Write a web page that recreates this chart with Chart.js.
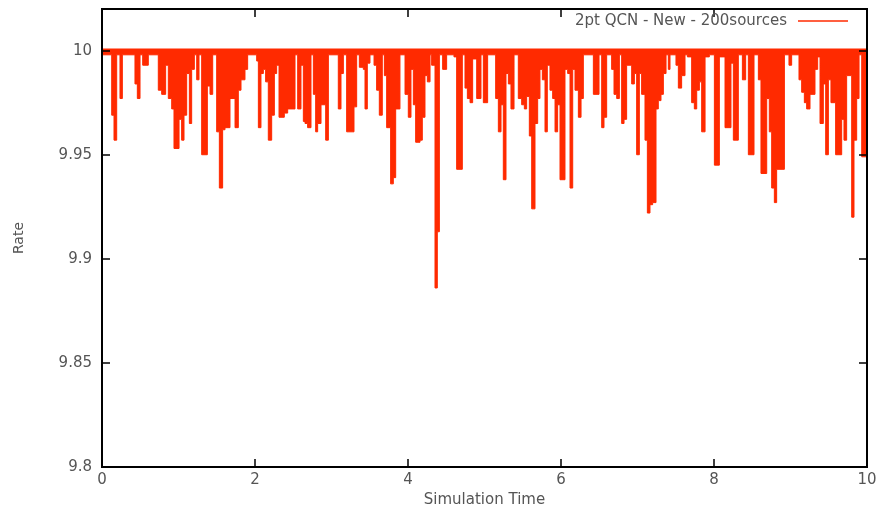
<!DOCTYPE html>
<html>
<head>
<meta charset="utf-8">
<script src="https://cdn.jsdelivr.net/npm/chart.js@4/dist/chart.umd.min.js"></script>
<style>
    html, body { margin: 0; padding: 0; background: #fff; }
    #wrap { width: 880px; height: 511px; }
</style>
</head>
<body>
<div id="wrap"><canvas id="rateChart" width="880" height="511"></canvas></div>
<script>
// ===== DATA =====
const seriesLabel = '2pt QCN - New - 200sources';

// start of each step and the lowest rate reached during it
const simTime = [
    0.000, 0.127, 0.157, 0.192, 0.235, 0.266, 0.431, 0.462, 0.497, 0.532,
    0.605, 0.736, 0.780, 0.832, 0.867, 0.911, 0.941, 1.007, 1.041, 1.072,
    1.107, 1.142, 1.172, 1.207, 1.238, 1.268, 1.303, 1.377, 1.412, 1.447,
    1.499, 1.534, 1.577, 1.608, 1.673, 1.739, 1.782, 1.817, 1.869, 1.904,
    2.022, 2.044, 2.078, 2.109, 2.139, 2.174, 2.218, 2.253, 2.283, 2.314,
    2.383, 2.427, 2.523, 2.558, 2.601, 2.632, 2.654, 2.688, 2.732, 2.763,
    2.793, 2.819, 2.863, 2.924, 2.959, 3.089, 3.124, 3.155, 3.198, 3.294,
    3.329, 3.364, 3.416, 3.438, 3.468, 3.503, 3.556, 3.590, 3.625, 3.664,
    3.691, 3.721, 3.773, 3.808, 3.839, 3.895, 3.961, 4.004, 4.039, 4.070,
    4.100, 4.157, 4.187, 4.222, 4.253, 4.288, 4.309, 4.353, 4.383, 4.410,
    4.453, 4.505, 4.601, 4.636, 4.710, 4.745, 4.776, 4.811, 4.845, 4.876,
    4.898, 4.954, 4.985, 5.041, 5.146, 5.181, 5.216, 5.246, 5.281, 5.312,
    5.346, 5.386, 5.442, 5.486, 5.521, 5.551, 5.586, 5.617, 5.660, 5.695,
    5.725, 5.756, 5.791, 5.821, 5.856, 5.891, 5.922, 5.956, 5.987, 6.052,
    6.087, 6.118, 6.153, 6.183, 6.227, 6.262, 6.292, 6.423, 6.497, 6.532,
    6.562, 6.597, 6.662, 6.693, 6.728, 6.763, 6.793, 6.824, 6.858, 6.924,
    6.959, 6.989, 7.024, 7.054, 7.098, 7.129, 7.163, 7.198, 7.242, 7.272,
    7.307, 7.338, 7.373, 7.403, 7.425, 7.503, 7.534, 7.577, 7.621, 7.652,
    7.708, 7.743, 7.774, 7.809, 7.839, 7.883, 7.939, 8.005, 8.070, 8.144,
    8.222, 8.253, 8.318, 8.371, 8.414, 8.449, 8.523, 8.580, 8.614, 8.689,
    8.723, 8.754, 8.789, 8.819, 8.920, 8.980, 9.015, 9.111, 9.146, 9.181,
    9.211, 9.255, 9.320, 9.355, 9.386, 9.429, 9.460, 9.495, 9.529, 9.590,
    9.669, 9.699, 9.734, 9.800, 9.830, 9.865, 9.896, 9.931, 10.000
];
const rate = [
    9.998, 9.969, 9.957, 9.998, 9.977, 9.998, 9.984, 9.977, 9.998, 9.993,
    9.998, 9.981, 9.979, 9.993, 9.977, 9.972, 9.953, 9.967, 9.957, 9.969,
    9.989, 9.965, 9.991, 9.998, 9.986, 9.998, 9.950, 9.983, 9.979, 9.998,
    9.961, 9.934, 9.962, 9.963, 9.977, 9.963, 9.981, 9.986, 9.991, 9.998,
    9.995, 9.963, 9.989, 9.991, 9.985, 9.957, 9.969, 9.989, 9.993, 9.968,
    9.970, 9.972, 9.998, 9.972, 9.993, 9.966, 9.965, 9.963, 9.998, 9.979,
    9.961, 9.965, 9.974, 9.957, 9.998, 9.972, 9.989, 9.998, 9.961, 9.973,
    9.998, 9.992, 9.991, 9.972, 9.994, 9.998, 9.993, 9.981, 9.969, 9.998,
    9.988, 9.963, 9.936, 9.939, 9.972, 9.998, 9.979, 9.968, 9.991, 9.974,
    9.956, 9.957, 9.968, 9.988, 9.985, 9.998, 9.993, 9.886, 9.913, 9.998,
    9.991, 9.998, 9.997, 9.943, 9.998, 9.982, 9.977, 9.975, 9.996, 9.996,
    9.977, 9.998, 9.975, 9.998, 9.977, 9.961, 9.974, 9.938, 9.989, 9.984,
    9.972, 9.998, 9.977, 9.974, 9.972, 9.978, 9.959, 9.924, 9.965, 9.977,
    9.991, 9.986, 9.961, 9.993, 9.981, 9.977, 9.961, 9.974, 9.938, 9.991,
    9.989, 9.934, 9.991, 9.981, 9.968, 9.977, 9.998, 9.979, 9.998, 9.963,
    9.968, 9.998, 9.991, 9.979, 9.977, 9.998, 9.965, 9.967, 9.993, 9.984,
    9.989, 9.950, 9.989, 9.979, 9.957, 9.922, 9.926, 9.927, 9.972, 9.976,
    9.979, 9.989, 9.998, 9.991, 9.998, 9.993, 9.982, 9.988, 9.998, 9.997,
    9.975, 9.972, 9.981, 9.985, 9.961, 9.997, 9.998, 9.945, 9.997, 9.963,
    9.994, 9.957, 9.998, 9.986, 9.998, 9.950, 9.998, 9.986, 9.941, 9.977,
    9.961, 9.934, 9.927, 9.943, 9.998, 9.993, 9.998, 9.986, 9.980, 9.975,
    9.972, 9.979, 9.991, 9.997, 9.965, 9.984, 9.950, 9.986, 9.975, 9.950,
    9.967, 9.957, 9.988, 9.920, 9.957, 9.977, 9.998, 9.949, 9.949
];

const xTicks = [0, 2, 4, 6, 8, 10];
const yTicks = [9.8, 9.85, 9.9, 9.95, 10];
const yTickLabels = ['9.8', '9.85', '9.9', '9.95', '10'];

const RED = '#ff2a00';
const INK = '#555';
const FONT = 'DejaVu Sans';

// gnuplot look: closed frame, inward ticks on all four sides, key inside top-right
const framePlugin = {
    id: 'frame',
    afterDatasetsDraw(chart) {
        const { ctx, chartArea: a, scales: { x, y } } = chart;
        ctx.save();
        ctx.strokeStyle = '#000';
        ctx.lineWidth = 1.5;
        ctx.beginPath();
        xTicks.forEach(v => {
            const px = Math.round(x.getPixelForValue(v));
            ctx.moveTo(px, a.bottom); ctx.lineTo(px, a.bottom - 8);
            ctx.moveTo(px, a.top); ctx.lineTo(px, a.top + 8);
        });
        yTicks.forEach(v => {
            const py = Math.round(y.getPixelForValue(v));
            ctx.moveTo(a.left, py); ctx.lineTo(a.left + 8, py);
            ctx.moveTo(a.right, py); ctx.lineTo(a.right - 8, py);
        });
        ctx.stroke();
        ctx.lineWidth = 2;
        ctx.strokeRect(a.left, a.top, a.right - a.left, a.bottom - a.top);

        // key
        const ky = a.top + 12;
        ctx.fillStyle = INK;
        ctx.font = `15px "${FONT}"`;
        ctx.textAlign = 'right';
        ctx.textBaseline = 'middle';
        ctx.fillText(chart.data.datasets[0].label, a.right - 80, ky);
        ctx.strokeStyle = RED;
        ctx.lineWidth = 1.5;
        ctx.beginPath();
        ctx.moveTo(a.right - 69, ky);
        ctx.lineTo(a.right - 19, ky);
        ctx.stroke();
        ctx.restore();
    }
};

const axisFont = { family: FONT, size: 15 };

new Chart(document.getElementById('rateChart'), {
    type: 'line',
    data: {
        datasets: [{
            label: seriesLabel,
            data: simTime.map((t, i) => ({ x: t, y: rate[i] })),
            stepped: true,
            borderColor: RED,
            backgroundColor: RED,
            borderWidth: 1,
            pointRadius: 0,
            fill: { value: 10.001 },
        }]
    },
    options: {
        responsive: false,
        animation: false,
        layout: { padding: { top: 9, right: 13, bottom: 0, left: 0 } },
        plugins: { legend: { display: false }, tooltip: { enabled: false } },
        scales: {
            x: {
                type: 'linear', min: 0, max: 10,
                afterBuildTicks: s => { s.ticks = xTicks.map(v => ({ value: v })); },
                afterFit: s => { s.height = 44; s.paddingLeft = 0; s.paddingRight = 0; },
                grid: { display: false, drawTicks: false },
                border: { display: false },
                ticks: { padding: 4, color: INK, font: axisFont, maxRotation: 0, autoSkip: false, callback: v => String(v) },
                title: { display: true, text: 'Simulation Time', color: INK, font: axisFont, padding: { top: 0, bottom: 2 } }
            },
            y: {
                type: 'linear', min: 9.8, max: 10.02,
                afterBuildTicks: s => { s.ticks = yTicks.map(v => ({ value: v })); },
                afterFit: s => { s.width = 102; s.paddingTop = 0; s.paddingBottom = 0; },
                grid: { display: false, drawTicks: false },
                border: { display: false },
                ticks: { padding: 10, color: INK, font: axisFont, autoSkip: false, callback: (v, i) => yTickLabels[i] },
                title: { display: true, text: 'Rate', color: INK, font: { family: FONT, size: 14 }, padding: { top: 11, bottom: 0 } }
            }
        }
    },
    plugins: [framePlugin]
});
</script>
</body>
</html>
